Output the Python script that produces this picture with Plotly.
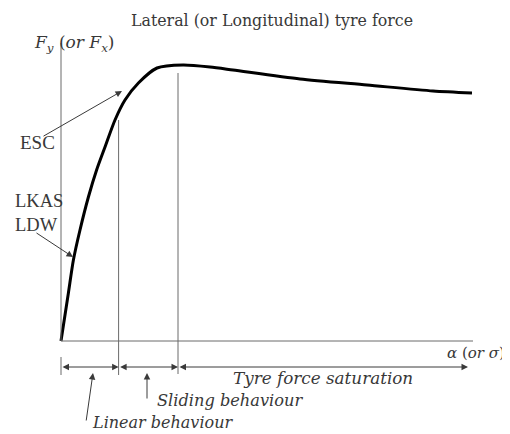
import plotly.graph_objects as go

# ---- data (slip in arbitrary units, force in arbitrary units) ----
slip = [0.0, 0.37, 0.62, 0.95, 1.37, 1.78, 2.2, 2.7, 3.2, 3.87, 4.8,
        6.1, 7.45, 8.6, 11.95, 15.3, 18.6, 20.55]
force = [0.0, 0.96, 1.62, 2.22, 2.88, 3.42, 3.88, 4.42, 4.82, 5.16, 5.46,
         5.52, 5.48, 5.42, 5.24, 5.12, 5.0, 4.96]

# region boundaries on the slip axis
linear_end = 2.88
sliding_end = 5.85
saturation_end = 20.35

title_text = "Lateral (or Longitudinal) tyre force"
y_label = "<i>F</i><sub><i>y</i></sub> (<i>or</i> <i>F</i><sub><i>x</i></sub>)"
x_label = "<i>α</i> (<i>or</i> <i>σ</i>)"
region_labels = ["<i>Linear behaviour</i>", "<i>Sliding behaviour</i>",
                 "<i>Tyre force saturation</i>"]
system_labels = ["ESC", "LKAS<br>LDW"]

# ---- styling ----
GRAY = "#6a6a6a"
ARROW = "#3a3a3a"
TXT = "#383838"
SERIF = "Liberation Serif, Times New Roman, serif"
DSERIF = "DejaVu Serif, serif"

# the page body adds an 8 px offset, so the figure is 8 px smaller
x_range = [-2.65, 22.45]
y_range = [-1.86, 6.66]
x_axis_end = 20.6
y_axis_top = 5.96
dim_y = -0.52
ext_bottom = -0.68

fig = go.Figure()
fig.add_trace(go.Scatter(x=slip, y=force, mode="lines",
                         line=dict(color="black", width=3, shape="spline", smoothing=0.7),
                         hoverinfo="skip", showlegend=False))

shapes = []
def vline(x, y0, y1):
    shapes.append(dict(type="line", xref="x", yref="y", x0=x, x1=x, y0=y0, y1=y1,
                       line=dict(color=GRAY, width=1)))

# axes
vline(0, 0, y_axis_top)
shapes.append(dict(type="line", xref="x", yref="y", x0=0, x1=x_axis_end, y0=0, y1=0,
                   line=dict(color=GRAY, width=1)))
# region boundaries
vline(linear_end, 4.42, ext_bottom)
vline(sliding_end, 5.36, ext_bottom + 0.02)
vline(0, -0.32, ext_bottom)

ann = []
def arrow(x, y, ax, ay, both=False):
    ann.append(dict(x=x, y=y, ax=ax, ay=ay, xref="x", yref="y", axref="x", ayref="y",
                    text="", showarrow=True, arrowhead=2, arrowsize=1.3, arrowwidth=1,
                    arrowcolor=ARROW, arrowside="end+start" if both else "end",
                    startarrowhead=2, startarrowsize=1.3, standoff=0, startstandoff=0))

def label(x, y, text, size, font=SERIF, xanchor="left", align="left"):
    ann.append(dict(x=x, y=y, xref="x", yref="y", text=text, showarrow=False,
                    xanchor=xanchor, yanchor="middle", align=align,
                    font=dict(family=font, size=size, color=TXT)))

# dimension arrows
arrow(linear_end, dim_y, 0, dim_y, both=True)
arrow(sliding_end, dim_y, linear_end, dim_y, both=True)
arrow(saturation_end, dim_y, sliding_end, dim_y, both=True)
# pointer arrows
arrow(3.05, 5.0, -0.95, 4.08)       # ESC
arrow(0.6, 1.68, -1.3, 2.18)        # LKAS / LDW
arrow(4.3, -0.64, 4.3, -1.18)       # sliding
arrow(1.6, -0.64, 1.25, -1.62)      # linear

label(10.55, 6.42, title_text, 15.8, font=DSERIF, xanchor="center", align="center")
label(-1.45, 5.96, y_label, 17, font=DSERIF)
label(22.3, -0.24, x_label, 15, font=DSERIF, xanchor="right")
label(-2.15, 3.98, system_labels[0], 19)
label(-2.4, 2.57, system_labels[1], 18.5)
label(13.1, -0.74, region_labels[2], 16.8, font=DSERIF, xanchor="center")
label(4.7, -1.18, region_labels[1], 16.2, font=DSERIF)
label(1.45, -1.63, region_labels[0], 16, font=DSERIF)

fig.update_layout(
    width=502, height=426, autosize=False,
    margin=dict(l=0, r=0, t=0, b=0, pad=0),
    paper_bgcolor="white", plot_bgcolor="white",
    xaxis=dict(range=x_range, visible=False, fixedrange=True),
    yaxis=dict(range=y_range, visible=False, fixedrange=True),
    shapes=shapes, annotations=ann, showlegend=False,
)
fig.write_html("out.html")
